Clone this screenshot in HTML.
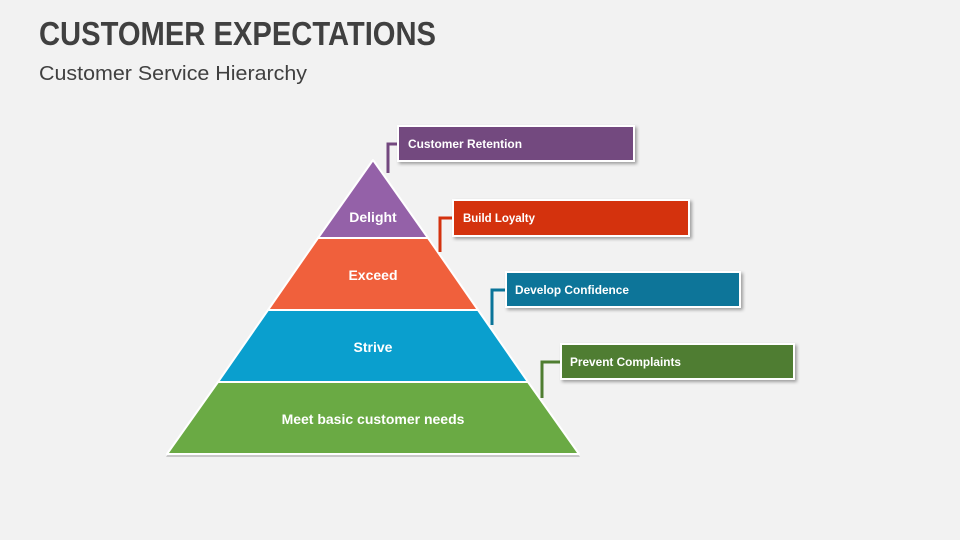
<!DOCTYPE html>
<html><head><meta charset="utf-8"><style>
html,body{margin:0;padding:0;background:#f2f2f2;}
body{width:960px;height:540px;overflow:hidden;font-family:"Liberation Sans",sans-serif;}
</style></head><body>
<svg width="960" height="540" xmlns="http://www.w3.org/2000/svg" style="display:block">
<defs><filter id="sh" x="-10%" y="-20%" width="130%" height="160%"><feDropShadow dx="2" dy="2" stdDeviation="1.5" flood-color="#000" flood-opacity="0.35"/></filter></defs>
<rect width="960" height="540" fill="#f2f2f2"/>
<text x="39" y="45" font-size="33" font-weight="bold" fill="#404040" textLength="397" lengthAdjust="spacingAndGlyphs" font-family="Liberation Sans, sans-serif">CUSTOMER EXPECTATIONS</text>
<text x="39" y="80" font-size="20" fill="#404040" textLength="268" lengthAdjust="spacingAndGlyphs" font-family="Liberation Sans, sans-serif">Customer Service Hierarchy</text>
<polygon points="373,158 166,455 580,455" fill="#c8c8c8" transform="translate(0,2)"/>
<g stroke="#fff" stroke-width="2" stroke-linejoin="round">
<polygon points="373,160 318,238 428,238" fill="#9461a8"/>
<polygon points="318,238 428,238 478,310 268,310" fill="#f0603c"/>
<polygon points="268,310 478,310 528,382 218,382" fill="#0a9fce"/>
<polygon points="218,382 528,382 579,454 167,454" fill="#6aaa44"/>
</g>
<g fill="#fff" font-weight="bold" font-size="14" text-anchor="middle" font-family="Liberation Sans, sans-serif">
<text x="373" y="222">Delight</text>
<text x="373" y="280">Exceed</text>
<text x="373" y="352">Strive</text>
<text x="373" y="424">Meet basic customer needs</text>
</g>
<g fill="none" stroke-width="3">
<polyline points="397,144 388,144 388,173" stroke="#73487f"/>
<polyline points="452,218 440,218 440,252" stroke="#d4320f"/>
<polyline points="505,290 492,290 492,325" stroke="#0a7499"/>
<polyline points="560,362 542,362 542,398" stroke="#4f7d31"/>
</g>
<g stroke="#fff" stroke-width="2" filter="url(#sh)">
<rect x="398" y="126" width="236" height="35" fill="#73487f"/>
<rect x="453" y="200" width="236" height="36" fill="#d4320f"/>
<rect x="506" y="272" width="234" height="35" fill="#0a7499"/>
<rect x="561" y="344" width="233" height="35" fill="#4f7d31"/>
</g>
<g fill="#fff" font-size="12" font-weight="bold" font-family="Liberation Sans, sans-serif">
<text x="408" y="148" textLength="114" lengthAdjust="spacingAndGlyphs">Customer Retention</text>
<text x="463" y="222" textLength="72" lengthAdjust="spacingAndGlyphs">Build Loyalty</text>
<text x="515" y="294" textLength="114" lengthAdjust="spacingAndGlyphs">Develop Confidence</text>
<text x="570" y="366" textLength="111" lengthAdjust="spacingAndGlyphs">Prevent Complaints</text>
</g>
</svg>
</body></html>
